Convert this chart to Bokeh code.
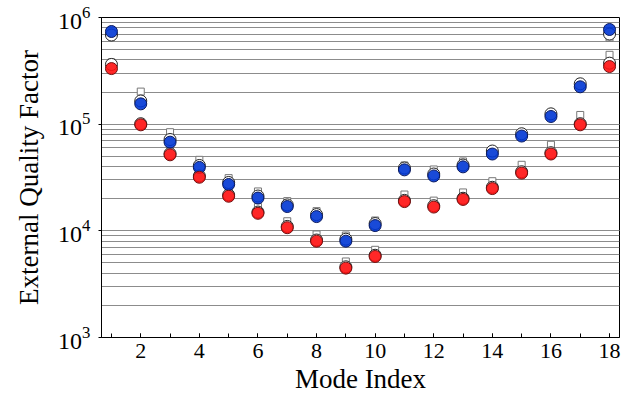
import numpy as np
from bokeh.plotting import figure
from bokeh.models import Range1d, FixedTicker, LogTicker
from bokeh.embed import file_html
from bokeh.resources import INLINE

mode = list(range(1, 19))

# Blue group
blue_meas = [7.39e5, 1.55e5, 6.78e4, 3.93e4, 2.72e4, 2.03e4, 1.69e4, 1.36e4, 8.0e3,
             1.12e4, 3.73e4, 3.27e4, 3.98e4, 5.25e4, 7.74e4, 1.18e5, 2.24e5, 7.72e5]
blue_circ = [6.85e5, 1.65e5, 7.18e4, 4.10e4, 2.84e4, 2.12e4, 1.75e4, 1.42e4, 8.35e3,
             1.17e4, 3.88e4, 3.41e4, 4.14e4, 5.60e4, 8.13e4, 1.25e5, 2.39e5, 7.00e5]
blue_sq = [6.64e5, 2.02e5, 8.41e4, 4.63e4, 3.12e4, 2.34e4, 1.90e4, 1.53e4, 9.04e3,
           1.25e4, 4.10e4, 3.76e4, 4.47e4, 5.55e4, 8.00e4, 1.23e5, 2.35e5, 6.49e5]

# Red group
red_meas = [3.32e5, 9.86e4, 5.16e4, 3.18e4, 2.11e4, 1.46e4, 1.07e4, 8.0e3, 4.47e3,
            5.75e3, 1.88e4, 1.67e4, 1.97e4, 2.49e4, 3.48e4, 5.25e4, 9.86e4, 3.47e5]
red_circ = [3.63e5, 1.01e5, 5.30e4, 3.27e4, 2.17e4, 1.50e4, 1.10e4, 8.2e3, 4.6e3,
            5.9e3, 1.93e4, 1.72e4, 2.02e4, 2.56e4, 3.58e4, 5.40e4, 1.01e5, 3.73e5]
red_sq = [3.79e5, 1.00e5, 5.42e4, 3.52e4, 2.39e4, 1.67e4, 1.23e4, 9.24e3, 5.16e3,
          6.64e3, 2.19e4, 1.92e4, 2.29e4, 2.92e4, 4.16e4, 6.41e4, 1.22e5, 4.47e5]

x_ticks = [2, 4, 6, 8, 10, 12, 14, 16, 18]

FONT = "Liberation Serif"

p = figure(width=630, height=401, y_axis_type="log",
           x_range=Range1d(0.66, 18.34), y_range=Range1d(1e3, 1e6),
           output_backend="svg", toolbar_location=None,
           min_border_left=101, min_border_right=11, min_border_top=17, min_border_bottom=64)

p.background_fill_color = "white"
p.border_fill_color = "white"
p.outline_line_color = "black"
p.outline_line_width = 1

p.xgrid.grid_line_color = None
p.ygrid.grid_line_color = "#8c8c8c"
p.ygrid.minor_grid_line_color = "#8c8c8c"
p.ygrid.grid_line_width = 1
p.ygrid.minor_grid_line_width = 1

p.xaxis.ticker = FixedTicker(ticks=x_ticks, minor_ticks=mode)
p.yaxis.ticker = LogTicker(num_minor_ticks=10)

for ax in (p.xaxis[0], p.yaxis[0]):
    ax.axis_line_color = "black"
    ax.major_tick_line_color = "black"
    ax.minor_tick_line_color = "black"
    ax.major_label_text_font = FONT
    ax.major_label_text_color = "black"
    ax.axis_label_text_font = FONT
    ax.axis_label_text_font_size = "27px"
    ax.axis_label_text_font_style = "normal"
    ax.axis_label_text_color = "black"

p.xaxis.major_label_text_font_size = "22px"
p.yaxis.major_label_text_font_size = "24px"

p.xaxis.major_tick_in = 4
p.xaxis.major_tick_out = 0
p.xaxis.minor_tick_in = 4
p.xaxis.minor_tick_out = 0
p.xaxis.major_label_standoff = 6
p.xaxis.axis_label = "Mode Index"
p.xaxis.axis_label_standoff = 3

p.yaxis.major_tick_in = 0
p.yaxis.major_tick_out = 3
p.yaxis.minor_tick_in = 0
p.yaxis.minor_tick_out = 0
p.yaxis.major_label_standoff = 8
p.yaxis.axis_label = "External Quality Factor"
p.yaxis.axis_label_standoff = 11

# squares (drawn first)
p.scatter(mode, blue_sq, marker="square", size=7, fill_color="white",
          line_color="#777777", line_width=1)
p.scatter(mode, red_sq, marker="square", size=7, fill_color="white",
          line_color="#777777", line_width=1)
# open circles
p.scatter(mode, blue_circ, marker="circle", size=12, fill_color="white",
          line_color="#222222", line_width=1)
p.scatter(mode, red_circ, marker="circle", size=12, fill_color="white",
          line_color="#222222", line_width=1)
# filled circles
p.scatter(mode, blue_meas, marker="circle", size=12, fill_color="#0036d4",
          fill_alpha=0.9, line_color="#0a1a60", line_width=1)
p.scatter(mode, red_meas, marker="circle", size=12, fill_color="#ff1010",
          fill_alpha=0.9, line_color="#701010", line_width=1)

open("out.html", "w").write(file_html(p, INLINE))
